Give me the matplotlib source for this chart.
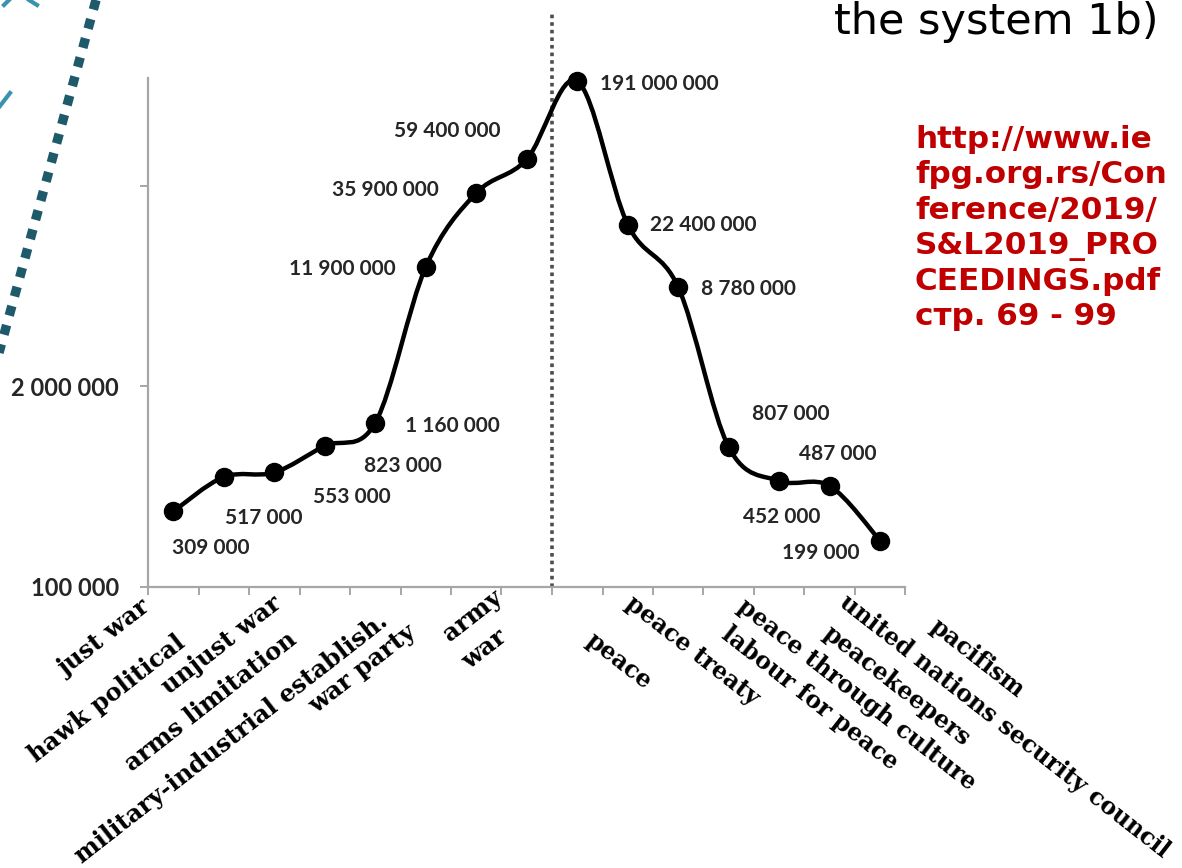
import numpy as np
import matplotlib
matplotlib.use("Agg")
import matplotlib.pyplot as plt
from matplotlib.path import Path
from matplotlib.patches import PathPatch
from matplotlib.lines import Line2D

# ---------------- data ----------------
categories = ["just war", "hawk political", "unjust war", "arms limitation",
              "military-industrial establish.", "war party", "army", "war",
              "peace", "peace treaty", "labour for peace", "peace through culture",
              "peacekeepers", "united nations security council", "pacifism"]
values = [309000, 517000, 553000, 823000, 1160000, 11900000, 35900000, 59400000,
          191000000, 22400000, 8780000, 807000, 487000, 452000, 199000]
ytick_values = [1e5, 2e6, 4e7]
ytick_labels = ["100 000", "2 000 000", ""]
title_text = "the system 1b)"
source_lines = ["http://www.ie", "fpg.org.rs/Con", "ference/2019/",
                "S&L2019_PRO", "CEEDINGS.pdf", "стр. 69 - 99"]

# --------------- styling / placement (pixels) ---------------
W, H = 1182, 868
value_label_offsets = [(38, 37), (40, 41), (78, 25), (78, 20), (77, 3),
                       (-83, 2), (-91, -3), (-79, -28), (82, 3), (75, 0),
                       (70, 2), (62, -33), (59, -27), (-48, 31), (-59, 12)]
cat_label_offsets = [(-33, -8), (-49, -43), (-3, -4), (-38, -40), (2, -22),
                     (-20, -33), (16, 2), (-30, -38),
                     (19, -41), (8, -4), (54, -35), (19, -7), (54, -34),
                     (20, -3), (60, -27)]
n_war = 8

fig = plt.figure(figsize=(W / 100, H / 100), dpi=100)
fig.patch.set_facecolor("white")
ax = fig.add_axes([148 / W, 1 - 587 / H, (905.5 - 148) / W, (587 - 78) / H])
ax.set_yscale("log")
ax.set_xlim(-0.5, len(categories) - 0.5)
ax.set_ylim(1e5, 2.0e8)

# ---- smoothed line (Bezier segments, Catmull-Rom control points in log space)
x = np.arange(len(values), dtype=float)
ly = np.log10(values)
n = len(x)
verts = [(x[0], values[0])]
codes = [Path.MOVETO]
for k in range(n - 1):
    i0, i1, i2, i3 = max(k - 1, 0), k, k + 1, min(k + 2, n - 1)
    c1x = x[i1] + (x[i2] - x[i0]) / 6
    c1y = ly[i1] + (ly[i2] - ly[i0]) / 6
    c2x = x[i2] - (x[i3] - x[i1]) / 6
    c2y = ly[i2] - (ly[i3] - ly[i1]) / 6
    verts += [(c1x, 10 ** c1y), (c2x, 10 ** c2y), (x[i2], values[i2])]
    codes += [Path.CURVE4] * 3
curve = PathPatch(Path(verts, codes), facecolor="none", edgecolor="black",
                  lw=3.2, zorder=3, capstyle="round", joinstyle="round",
                  clip_on=False)
ax.add_patch(curve)
ax.plot(x, values, linestyle="none", marker="o", ms=13, color="black", zorder=4,
        clip_on=False)

# ---- value labels
for i, v in enumerate(values):
    dx, dy = value_label_offsets[i]
    ax.annotate(f"{v:,}".replace(",", " "), xy=(i, v), xytext=(dx, -dy),
                textcoords="offset pixels", ha="center", va="center",
                fontsize=15, family=["Lato", "DejaVu Sans"], fontweight="bold",
                color="#262626", annotation_clip=False, zorder=5)

# ---- divider between war and peace
ax.vlines(n_war - 0.5, 1e5, 5.4e8, colors="#4d4d4d", linestyles=(0, (1, 1.1)),
          lw=2.6, clip_on=False, zorder=2)

# ---- axes styling
for s in ["top", "right"]:
    ax.spines[s].set_visible(False)
for s in ["left", "bottom"]:
    ax.spines[s].set_color("#a6a6a6")
    ax.spines[s].set_linewidth(1.6)
ax.set_yticks(ytick_values)
ax.set_yticklabels(ytick_labels)
ax.yaxis.set_minor_locator(matplotlib.ticker.NullLocator())
ax.tick_params(axis="y", direction="out", length=6, width=1.4, color="#a6a6a6",
               pad=15, labelsize=17, labelcolor="#262626")
for lab in ax.get_yticklabels():
    lab.set_family(["Lato", "DejaVu Sans"])
    lab.set_fontweight("bold")
ax.set_xticks(np.arange(len(categories) + 1) - 0.5)
ax.set_xticklabels([])
ax.tick_params(axis="x", direction="out", length=6, width=1.4, color="#a6a6a6")

# ---- category labels
for i, c in enumerate(categories):
    dx, dy = cat_label_offsets[i]
    if i < n_war:
        rot, ha, fs = 38, "right", 17.5
    else:
        rot, ha, fs = -38, "left", 17.0
    ax.annotate(c, xy=(i, 0), xycoords=("data", "axes fraction"),
                xytext=(dx, dy), textcoords="offset pixels",
                rotation=rot, rotation_mode="anchor", ha=ha, va="top",
                fontsize=fs, family=["DejaVu Serif"],
                fontweight="bold", color="black", annotation_clip=False)

# ---- slide decorations
fig.add_artist(Line2D([96 / W, -3 / W], [1 - 0 / H, 1 - 360 / H],
                      color="#1f5a6b", lw=6.8, linestyle=(0, (1.05, 1.05)),
                      solid_capstyle="butt", dash_capstyle="butt"))
fig.add_artist(Line2D([4 / W, 9 / W], [1 - 5 / H, 1 - 0 / H], color="#3a93ae", lw=3))
fig.add_artist(Line2D([29 / W, 37 / W], [1 - 0 / H, 1 - 5 / H], color="#3a93ae", lw=3))
fig.add_artist(Line2D([0 / W, 10 / W], [1 - 106 / H, 1 - 93 / H], color="#3a93ae", lw=3))

fig.text(1158 / W, 1 - 34 / H, title_text, ha="right", va="baseline",
         fontsize=31, family="DejaVu Sans", color="black")
for k, line in enumerate(source_lines):
    fig.text(915 / W, 1 - (148 + 35.4 * k) / H, line, ha="left", va="baseline",
             fontsize=22.3, family="DejaVu Sans", fontweight="bold", color="#c00000")

fig.savefig("out.png", dpi=100, facecolor="white")
